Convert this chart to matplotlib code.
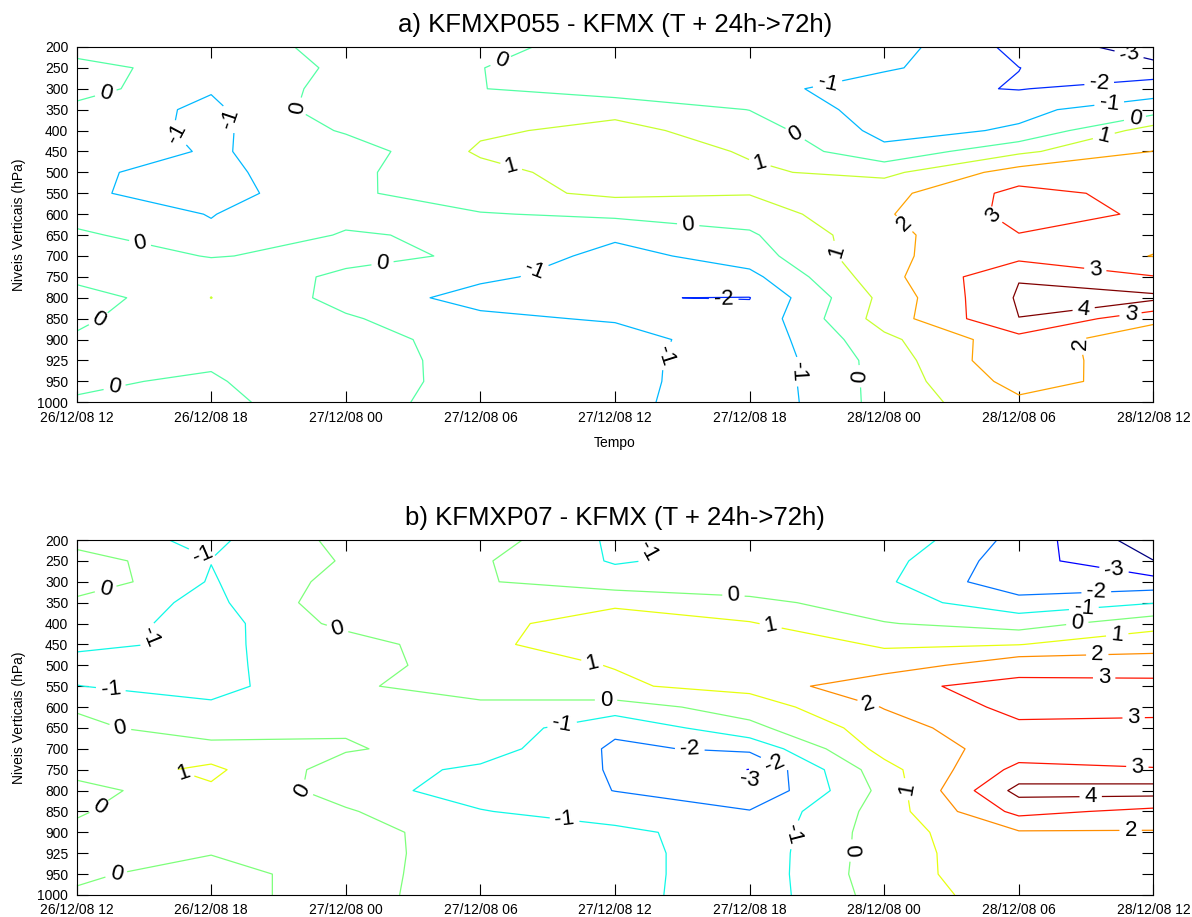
import numpy as np
import matplotlib
matplotlib.use("Agg")
import matplotlib.pyplot as plt
from matplotlib.colors import Normalize

plt.rcParams['font.family'] = ['Liberation Sans', 'DejaVu Sans']

# eixo x: horas a partir de 26/12/08 12, eixo y: niveis (indice)
horas = [0, 6, 12, 18, 24, 30, 36, 42, 48]
rotulos_tempo = ['26/12/08 12', '26/12/08 18', '27/12/08 00', '27/12/08 06',
                 '27/12/08 12', '27/12/08 18', '28/12/08 00', '28/12/08 06',
                 '28/12/08 12']
niveis_hpa = [200, 250, 300, 350, 400, 450, 500, 550, 600, 650, 700, 750,
              800, 850, 900, 925, 950, 1000]
isolinhas = [-4, -3, -2, -1, 0, 1, 2, 3, 4]

# a) KFMXP055 - KFMX  (linhas = niveis, colunas = horas)
dif_p055 = [
    [-0.30, -0.40, 0.245, 0.30, -0.47, -0.60, -0.50, -2.30, -3.50],
    [0.25, -0.345, 0.086, 0.02, -0.60, -0.60, -0.83, -1.99, -2.70],
    [0.45, -0.91, 0.41, 0.03, -0.55, -0.50, -1.72, -2.05, -1.43],
    [-0.31, -1.23, 0.69, 0.50, 0.75, -0.02, -1.50, -1.20, -0.50],
    [-0.41, -1.23, 0.12, 0.85, 1.27, 0.55, -1.30, -0.90, 1.50],
    [-0.51, -1.08, -0.58, 1.15, 1.50, 0.92, -0.75, 0.80, 2.02],
    [-0.86, -1.30, -0.20, 0.65, 1.55, 1.12, 0.745, 2.44, 2.50],
    [-0.84, -1.45, -0.20, 0.64, 1.20, 1.05, 1.66, 3.30, 2.70],
    [-0.50, -1.03, -0.30, -0.07, 0.20, 0.425, 1.89, 3.30, 2.90],
    [0.23, -0.88, 0.095, -0.19, -0.80, -0.134, 1.70, 2.97, 2.30],
    [0.73, -0.07, 0.34, -0.18, -1.37, -0.50, 1.80, 2.70, 1.97],
    [0.35, 0.80, -0.226, -0.80, -1.49, -1.30, 1.65, 3.95, 3.05],
    [-0.60, 1.01, -0.33, -1.40, -1.98, -2.02, 1.30, 4.12, 4.24],
    [-0.15, 0.70, 0.116, -0.75, -1.13, -1.78, 1.44, 3.99, 2.30],
    [0.10, 0.50, 0.50, -0.50, -0.446, -1.76, 0.75, 2.64, 1.22],
    [0.20, 0.147, 0.60, -0.45, -0.55, -1.80, 0.42, 2.84, 1.10],
    [0.13, -0.13, 0.95, -0.69, -0.60, -1.75, 0.38, 2.37, 1.60],
    [-0.07, -0.30, 0.70, -0.75, -0.65, -1.80, 0.37, 1.80, 1.50],
]

# b) KFMXP07 - KFMX
dif_p07 = [
    [-0.49, -1.23, 0.31, 0.54, -1.20, -0.50, -0.16, -2.36, -4.60],
    [0.60, -0.98, 0.085, 0.113, -1.10, -0.60, -0.65, -2.57, -3.98],
    [0.79, -1.09, 0.38, 0.081, -0.50, -0.70, -0.83, -2.72, -2.63],
    [-0.32, -1.26, 0.68, 0.40, 0.75, 0.30, -0.55, -1.59, -1.05],
    [-0.40, -1.45, 0.32, 0.60, 1.68, 1.07, 0.054, -0.435, 0.60],
    [-0.83, -1.15, -0.57, 0.855, 1.41, 1.53, 0.906, 0.97, 1.70],
    [-1.30, -1.15, -0.60, 0.70, 1.03, 1.60, 1.40, 2.72, 2.40],
    [-0.98, -1.38, -0.07, 0.21, 0.88, 1.30, 2.85, 3.20, 3.37],
    [-0.12, -0.80, -0.20, -0.108, -0.45, 0.457, 2.05, 3.30, 3.30],
    [0.30, -0.64, -0.10, -0.29, -1.80, -0.28, 1.55, 2.80, 2.70],
    [0.60, 0.46, 0.10, -0.48, -2.17, -1.80, 1.37, 2.42, 2.60],
    [0.45, 1.20, -0.49, -1.20, -2.08, -3.03, 0.63, 3.30, 3.05],
    [-0.45, 0.85, -0.40, -1.60, -2.01, -2.97, 0.32, 4.33, 4.45],
    [-0.10, 0.80, 0.10, -0.925, -1.70, -1.93, 0.45, 3.30, 2.72],
    [0.20, 0.50, 0.39, -0.50, -0.65, -1.74, 0.54, 1.90, 1.92],
    [0.30, 0.05, 0.41, -0.50, -0.59, -1.67, 0.55, 1.70, 1.80],
    [0.20, -0.50, 0.60, -0.80, -0.59, -1.67, 0.60, 1.60, 1.70],
    [-0.15, -0.50, 0.60, -0.90, -0.63, -1.65, 0.45, 1.50, 1.60],
]

# onde ficam os numeros das isolinhas (hora, indice do nivel)
rotulos_a = [(1.35, 2.38), (4.31, 4.29), (6.69, 3.49), (9.89, 2.94), (2.78, 9.63),
             (13.67, 10.59), (1.12, 13.3), (1.72, 16.41), (18.95, 0.78), (19.33, 5.88),
             (27.28, 8.28), (20.43, 10.75), (30.38, 5.81), (31.87, 4.45), (28.83, 12.5),
             (26.37, 14.82), (32.09, 15.53), (33.5, 1.9), (46.87, 0.54), (45.6, 2.03),
             (46.05, 2.94), (47.2, 3.57), (45.83, 4.45), (36.77, 8.6), (40.63, 8.44),
             (33.58, 9.87), (45.37, 10.99), (44.92, 12.82), (47.0, 12.98), (44.85, 14.18),
             (34.7, 15.77)]
rotulos_b = [(1.32, 2.43), (5.65, 0.64), (3.72, 4.79), (1.5, 7.42), (1.94, 9.02),
             (4.76, 11.18), (1.2, 13.09), (1.79, 16.12), (11.59, 4.39), (9.74, 12.05),
             (26.45, 1.12), (29.27, 2.87), (22.96, 5.99), (30.9, 4.31), (23.6, 7.74),
             (21.67, 9.02), (27.32, 10.3), (30.9, 11.18), (29.79, 11.9), (21.81, 12.85),
             (31.95, 14.1), (46.2, 1.68), (45.46, 2.79), (44.9, 3.35), (44.6, 3.95),
             (46.4, 4.71), (45.5, 5.75), (45.8, 6.78), (35.16, 8.27), (47.12, 8.86),
             (36.83, 11.97), (47.27, 11.18), (45.2, 12.29), (46.98, 13.81), (34.23, 14.85)]


def painel(ax, dados, titulo, rotulos, escala):
    z = np.array(dados)
    y = np.arange(len(niveis_hpa))
    cs = ax.contour(horas, y, z, levels=isolinhas, cmap='jet',
                    norm=Normalize(*escala), linewidths=0.9)
    ax.clabel(cs, cs.levels, manual=rotulos, inline=True, fmt='%d',
              fontsize=16, colors='k')
    ax.set_xlim(0, 48)
    ax.set_ylim(len(niveis_hpa) - 1, 0)
    ax.set_xticks(horas)
    ax.set_xticklabels(rotulos_tempo)
    ax.set_yticks(y)
    ax.set_yticklabels([str(n) for n in niveis_hpa])
    ax.tick_params(direction='in', length=8, top=True, right=True,
                   labelsize=10, pad=6)
    ax.set_title(titulo, fontsize=18.5, pad=11)
    ax.set_ylabel('Niveis Verticais (hPa)', fontsize=10, labelpad=8)


fig = plt.figure(figsize=(11.92, 9.17), dpi=100)
ax1 = fig.add_axes([0.0642, 0.5613, 0.9035, 0.3875])
ax2 = fig.add_axes([0.0642, 0.024, 0.9035, 0.3871])

painel(ax1, dif_p055, 'a) KFMXP055 - KFMX (T + 24h->72h)', rotulos_a, (-3.15, 3.85))
ax1.set_xlabel('Tempo', fontsize=10, labelpad=8)
painel(ax2, dif_p07, 'b) KFMXP07 - KFMX (T + 24h->72h)', rotulos_b, (-3.85, 3.85))

fig.savefig('out.png', dpi=100)
